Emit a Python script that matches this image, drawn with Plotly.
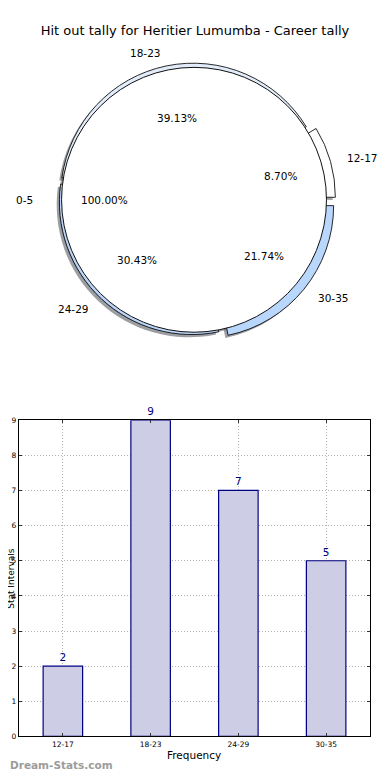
import math
import plotly.graph_objects as go

# ---------------- data ----------------
chart_title = "Hit out tally for Heritier Lumumba - Career tally"
categories = ["12-17", "18-23", "24-29", "30-35"]
counts = [2, 9, 7, 5]
pie_colors = ["#ffffff", "#e3ecfb", "#bad5f8", "#b9d7fc"]
pie_pull = [0.07, 0.032, 0.024, 0.07]
base_label = ["0-5"]
base_count = [1]
y_ticks = list(range(0, 10))

# page body has an 8px margin; figure is sized to fit the 390x780 window
OFF = 8
FW, FH = 390 - OFF, 780 - OFF


def X(sx):
    return (sx - OFF) / FW


def Y(sy):
    return 1 - (sy - OFF) / FH


CX, CY = 194, 198          # pie centre in screen px
R0 = 134                   # radius of the un-pulled base circle in px
SH = 2.7                   # shadow offset px
max_pull = max(pie_pull)
total = sum(counts)


def dom(cx, cy, half):
    return dict(x=[X(cx - half), X(cx + half)], y=[Y(cy + half), Y(cy - half)])


def shade(hexcol):
    h = hexcol.lstrip("#")
    r, g, b = (int(h[i:i + 2], 16) for i in (0, 2, 4))
    return f"rgba({int(r * 0.3)},{int(g * 0.3)},{int(b * 0.3)},0.5)"


fig = go.Figure()
first_angle = 360 * counts[0] / total
pie_common = dict(sort=False, direction="counterclockwise", textinfo="none", showlegend=False)

# shadows (drawn beneath every wedge, like matplotlib)
fig.add_trace(go.Pie(
    labels=categories, values=counts, rotation=90 - first_angle, pull=pie_pull,
    marker=dict(colors=[shade(c) for c in pie_colors], line=dict(width=0)),
    hoverinfo="skip", domain=dom(CX - SH, CY + SH, R0 * (1 + max_pull)), **pie_common))
fig.add_trace(go.Pie(
    labels=base_label, values=base_count,
    marker=dict(colors=[shade("#ffffff")], line=dict(width=0)),
    hoverinfo="skip", domain=dom(CX - SH, CY + SH, R0), **pie_common))

# exploded slices
fig.add_trace(go.Pie(
    labels=categories, values=counts, rotation=90 - first_angle, pull=pie_pull,
    marker=dict(colors=pie_colors, line=dict(color="#111111", width=0.9)),
    hoverinfo="label+percent", domain=dom(CX, CY, R0 * (1 + max_pull)), **pie_common))
# base circle (0-5, 100%)
fig.add_trace(go.Pie(
    labels=base_label, values=base_count,
    marker=dict(colors=["#ffffff"], line=dict(color="#111111", width=1)),
    hoverinfo="label+percent", domain=dom(CX, CY, R0), **pie_common))

annotations = []


def add_txt(text, sx, sy, xanchor="center", size=10.5, color="#000000", **kw):
    annotations.append(dict(text=text, x=X(sx), y=Y(sy), xref="paper", yref="paper",
                            xanchor=xanchor, yanchor="middle", showarrow=False,
                            font=dict(size=size, color=color, family="DejaVu Sans"), **kw))


# slice labels / percentages (matplotlib-like placement)
cum = 0
for lab, v, p in zip(categories, counts, pie_pull):
    mid = math.radians(360 * (cum + v / 2) / total)
    cum += v
    c, s = math.cos(mid), math.sin(mid)
    d = (1.1 + p) * R0
    add_txt(lab, CX + d * c, CY - d * s, xanchor="left" if c > 0 else "right")
    d = (0.6 + p) * R0
    add_txt(f"{100 * v / total:.2f}%", CX + d * c, CY - d * s)

# base slice label
add_txt(base_label[0], CX - 1.1 * R0 - 12, CY, xanchor="right")
add_txt(f"{100 * base_count[0] / sum(base_count):.2f}%", CX - 0.67 * R0, CY)

# ---------------- bar chart ----------------
fig.add_trace(go.Bar(
    x=categories, y=counts, width=0.45,
    marker=dict(color="#cdcde6", line=dict(color="#000080", width=1.2)),
    text=[str(v) for v in counts], textposition="outside", cliponaxis=False,
    textfont=dict(size=10.5, color="#000080", family="DejaVu Sans"),
    showlegend=False, hoverinfo="x+y",
))

axis_common = dict(showline=True, linecolor="#000000", linewidth=1.2, mirror="allticks",
                   ticks="inside", ticklen=3, tickcolor="#333333",
                   showgrid=True, gridcolor="#b0b0b0", griddash="1px,2px", gridwidth=1,
                   zeroline=False, tickfont=dict(size=7.5, family="DejaVu Sans", color="#000000"))
fig.update_xaxes(domain=[X(19), X(370)], range=[-0.5, 3.5], **axis_common)
fig.update_yaxes(domain=[Y(741), Y(421)], range=[0, 9], tickvals=y_ticks, **axis_common)

add_txt("Frequency", 194, 760)
annotations.append(dict(text="Stat Intervals", x=X(11.5), y=Y(581), xref="paper", yref="paper",
                        xanchor="center", yanchor="middle", showarrow=False, textangle=-90,
                        font=dict(size=9, color="#000000", family="DejaVu Sans")))
annotations.append(dict(text="<b>Dream-Stats.com</b>", x=0, y=Y(770), xref="paper", yref="paper",
                        xanchor="left", yanchor="middle", showarrow=False,
                        font=dict(size=10.5, color="#9c9c9c", family="DejaVu Sans")))

fig.update_layout(
    width=FW, height=FH, margin=dict(l=0, r=0, t=0, b=0),
    paper_bgcolor="#ffffff", plot_bgcolor="#ffffff",
    title=dict(text=chart_title, x=X(195), xanchor="center", y=Y(30), yanchor="middle",
               font=dict(size=13, family="DejaVu Sans", color="#000000")),
    annotations=annotations,
)

fig.write_html("out.html")
